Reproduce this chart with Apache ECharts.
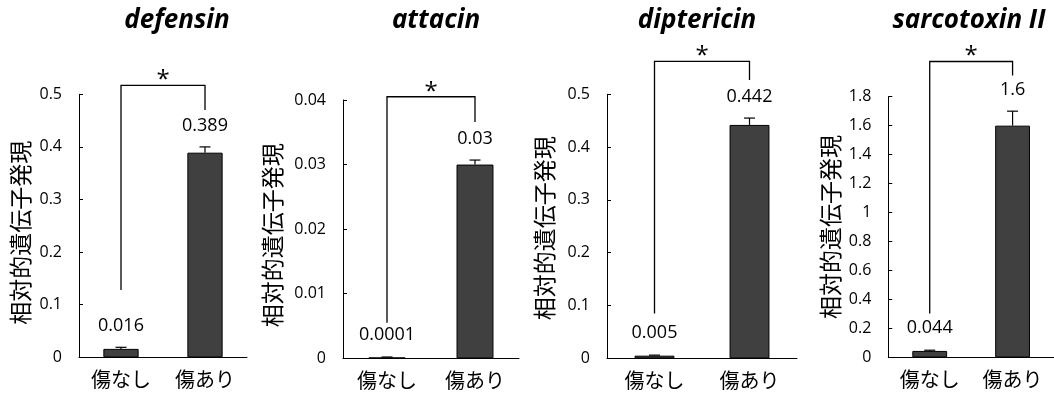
<!DOCTYPE html>
<html>
<head>
<meta charset="utf-8">
<script src="https://cdn.jsdelivr.net/npm/echarts@6/dist/echarts.min.js"></script>
<style>
html,body{margin:0;padding:0;background:#fff;}
#chart{width:1054px;height:396px;}
</style>
</head>
<body>
<div id="chart"></div>
<script>
// ---- data ----
const geneTitles = ['defensin', 'attacin', 'diptericin', 'sarcotoxin II'];
const categories = ['傷なし', '傷あり'];
const yAxisName = '相対的遺伝子発現';
const meanValues = [
  [0.016, 0.389],
  [0.0001, 0.03],
  [0.005, 0.442],
  [0.044, 1.6]
];
const errorValues = [
  [0.003, 0.011],
  [0.0001, 0.0007],
  [0.001, 0.013],
  [0.005, 0.1]
];
const valueLabels = [
  ['0.016', '0.389'],
  ['0.0001', '0.03'],
  ['0.005', '0.442'],
  ['0.044', '1.6']
];
const yMaxValues = [0.5, 0.04, 0.5, 1.8];
const yIntervals = [0.1, 0.01, 0.1, 0.2];
// significance brackets: [left leg bottom, top, right leg bottom] in axis units
const bracketLevels = [
  [0.128, 0.517, 0.470],
  [0.0055, 0.0405, 0.0366],
  [0.085, 0.5625, 0.527],
  [0.303, 2.043, 1.947]
];
const sigMarks = ['*', '*', '*', '*'];

// ---- layout ----
const gridBoxes = [
  {left: 79, top: 94.3, width: 168, height: 263},
  {left: 343, top: 100, width: 176, height: 258.3},
  {left: 607, top: 94.3, width: 190, height: 264},
  {left: 888.3, top: 96.7, width: 169, height: 260.6}
];
const titleCenters = [172, 431, 692, 964];
const nameGaps = [45, 57, 49, 44];
const namePadRight = [14, 12, 4, 0];
const FONT = "'Open Sans', 'Noto Sans CJK JP', sans-serif";

const chart = echarts.init(document.getElementById('chart'), null, {renderer: 'canvas'});

const grid = [], xAxis = [], yAxis = [], series = [], title = [];
for (let i = 0; i < 4; i++) {
  grid.push(Object.assign({containLabel: false}, gridBoxes[i]));
  title.push({
    text: geneTitles[i], left: titleCenters[i], top: 3, textAlign: 'center',
    textStyle: {fontFamily: FONT, fontSize: 26, fontWeight: 'bold', fontStyle: 'italic', color: '#000'}
  });
  xAxis.push({
    type: 'category', gridIndex: i, data: categories,
    axisLine: {lineStyle: {color: '#000', width: 1}},
    axisTick: {show: false},
    axisLabel: {color: '#000', fontFamily: FONT, fontSize: 20, margin: 14}
  });
  yAxis.push({
    type: 'value', gridIndex: i, min: 0, max: yMaxValues[i], interval: yIntervals[i],
    name: yAxisName, nameLocation: 'middle', nameRotate: 90, nameGap: nameGaps[i],
    nameTextStyle: {color: '#000', fontFamily: FONT, fontSize: 23, padding: [0, namePadRight[i], 0, 0]},
    axisLine: {show: true, lineStyle: {color: '#000', width: 1}},
    axisTick: {show: true, inside: true, length: 4, lineStyle: {color: '#000'}},
    splitLine: {show: false},
    axisLabel: {color: '#000', fontFamily: FONT, fontSize: 16, margin: 17}
  });
  series.push({
    type: 'bar', xAxisIndex: i, yAxisIndex: i, data: meanValues[i], barWidth: '42%',
    itemStyle: {color: '#404040', borderColor: '#000', borderWidth: 1},
    silent: true
  });
  // error bars + value labels
  series.push({
    type: 'custom', xAxisIndex: i, yAxisIndex: i, clip: false, silent: true, z: 5,
    data: meanValues[i].map((m, k) => [k, m, errorValues[i][k]]),
    renderItem: function (params, api) {
      const k = api.value(0), m = api.value(1), e = api.value(2);
      const base = api.coord([k, m]);
      const top = api.coord([k, m + e]);
      return {
        type: 'group',
        children: [
          {type: 'line', shape: {x1: base[0], y1: base[1], x2: top[0], y2: top[1]}, style: {stroke: '#000', lineWidth: 1.2}},
          {type: 'line', shape: {x1: top[0] - 5.5, y1: top[1], x2: top[0] + 5.5, y2: top[1]}, style: {stroke: '#000', lineWidth: 1.2}},
          {type: 'text', x: base[0], y: Math.min(top[1], base[1] - 2) - 12,
           style: {text: this.labels[k], fontFamily: FONT, fontSize: 18, fill: '#000', align: 'center', verticalAlign: 'bottom'}}
        ]
      };
    }.bind({labels: valueLabels[i]})
  });
  // significance bracket
  series.push({
    type: 'custom', xAxisIndex: i, yAxisIndex: i, clip: false, silent: true, z: 6,
    data: [bracketLevels[i]],
    renderItem: function (params, api) {
      const yl = api.value(0), yt = api.value(1), yr = api.value(2);
      const p0 = api.coord([0, yl]), p1 = api.coord([0, yt]);
      const p2 = api.coord([1, yt]), p3 = api.coord([1, yr]);
      return {
        type: 'group',
        children: [
          {type: 'polyline', shape: {points: [p0, p1, p2, p3]}, style: {stroke: '#000', lineWidth: 1.3, fill: null}},
          {type: 'text', x: (p1[0] + p2[0]) / 2, y: p1[1] + 7,
           style: {text: this.mark, fontFamily: FONT, fontSize: 24, fill: '#000', align: 'center', verticalAlign: 'bottom'}}
        ]
      };
    }.bind({mark: sigMarks[i]})
  });
}

chart.setOption({
  animation: false,
  backgroundColor: '#fff',
  title, grid, xAxis, yAxis, series
});
</script>
</body>
</html>
